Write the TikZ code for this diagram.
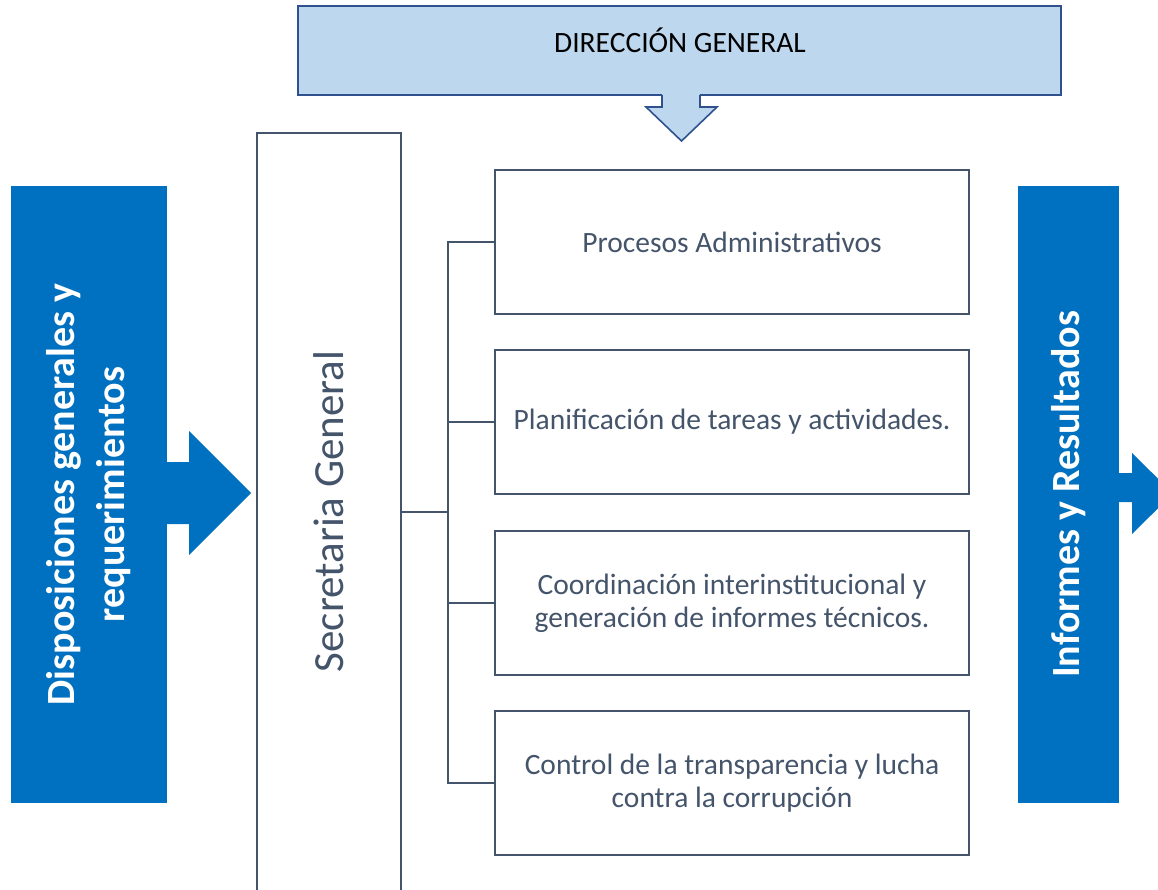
\documentclass[tikz,border=0pt]{standalone}
\usepackage{fontspec}
\setmainfont{Carlito}
\definecolor{dblue}{HTML}{0070C0}
\definecolor{lblue}{HTML}{BDD7EE}
\definecolor{lbord}{HTML}{2F528F}
\definecolor{slate}{HTML}{44546A}
\tikzset{
  x=1pt,y=-1pt,
  subbox/.style={draw=slate,line width=2.2pt,fill=white,minimum width=474pt,minimum height=144pt,inner sep=0pt,align=center,text=slate,font=\fontsize{29.5}{33}\selectfont},
  bluebar/.style={fill=dblue,inner sep=0pt},
  bartext/.style={rotate=90,text=white,align=center,font=\fontsize{40}{50}\selectfont\bfseries},
  conn/.style={draw=slate,line width=2.2pt},
  topbox/.style={draw=lbord,line width=1.6pt,fill=lblue,minimum width=763pt,minimum height=89pt,inner sep=0pt},
}
\begin{document}
\begin{tikzpicture}
\useasboundingbox (0,0) rectangle (1158,890);
\clip (0,0) rectangle (1158,890);
\fill[white] (0,0) rectangle (1158,890);
% top box
\node[topbox] (dg) at (679.5,50.5) {};
\node[font=\fontsize{29.5}{34}\selectfont,text=black] (dgt) at (680,40) {DIRECCIÓN GENERAL};
\fill[lblue] (662,92) rectangle (700,98);
\draw[lbord,line width=1.6pt,fill=lblue,line join=miter] (662,95) -- (662,107) -- (646,107) -- (681.5,141) -- (717,107) -- (700,107) -- (700,95);
% left bar and arrow
\node[bluebar,minimum width=156pt,minimum height=617pt] (lin) at (89,494.5) {};
\fill[dblue] (lin.east |- 0,462) -- (189,462) -- (189,431) -- (251,493) -- (189,555) -- (189,524) -- (lin.east |- 0,524) -- cycle;
\node[bartext] (lint) at (lin.center) {Disposiciones generales y\\requerimientos};
% right bar and arrow
\node[bluebar,minimum width=101pt,minimum height=617pt] (rin) at (1068.5,494.5) {};
\fill[dblue] (rin.east |- 0,473) -- (1132,473) -- (1132,453) -- (1173,493.5) -- (1132,534) -- (1132,502) -- (rin.east |- 0,502) -- cycle;
\node[bartext] (rint) at (rin.center) {Informes y Resultados};
% secretaria
\node[minimum width=144pt,minimum height=757pt,inner sep=0pt] (sec) at (329,511.5) {};
\draw[conn] (sec.south west) |- (sec.north east) -- (sec.south east);
\node[rotate=90,text=slate,font=\fontsize{43}{50}\selectfont] (sect) at (sec.center) {Secretaria General};
% sub boxes
\node[subbox] (b1) at (732,242) {Procesos Administrativos};
\node[subbox] (b2) at (732,422) {Planificación de tareas y actividades.};
\node[subbox] (b3) at (732,603) {Coordinación interinstitucional y\\generación de informes técnicos.};
\node[subbox] (b4) at (732,783) {Control de la transparencia y lucha\\contra la corrupción};
% connectors
\coordinate (j) at (448,512);
\draw[conn] (sec.east |- j) -- (j);
\draw[conn] (b1.west) -| (j);
\draw[conn] (b4.west) -| (j);
\draw[conn] (b2.west) -- (b2.west -| j);
\draw[conn] (b3.west) -- (b3.west -| j);
\end{tikzpicture}
\end{document}
